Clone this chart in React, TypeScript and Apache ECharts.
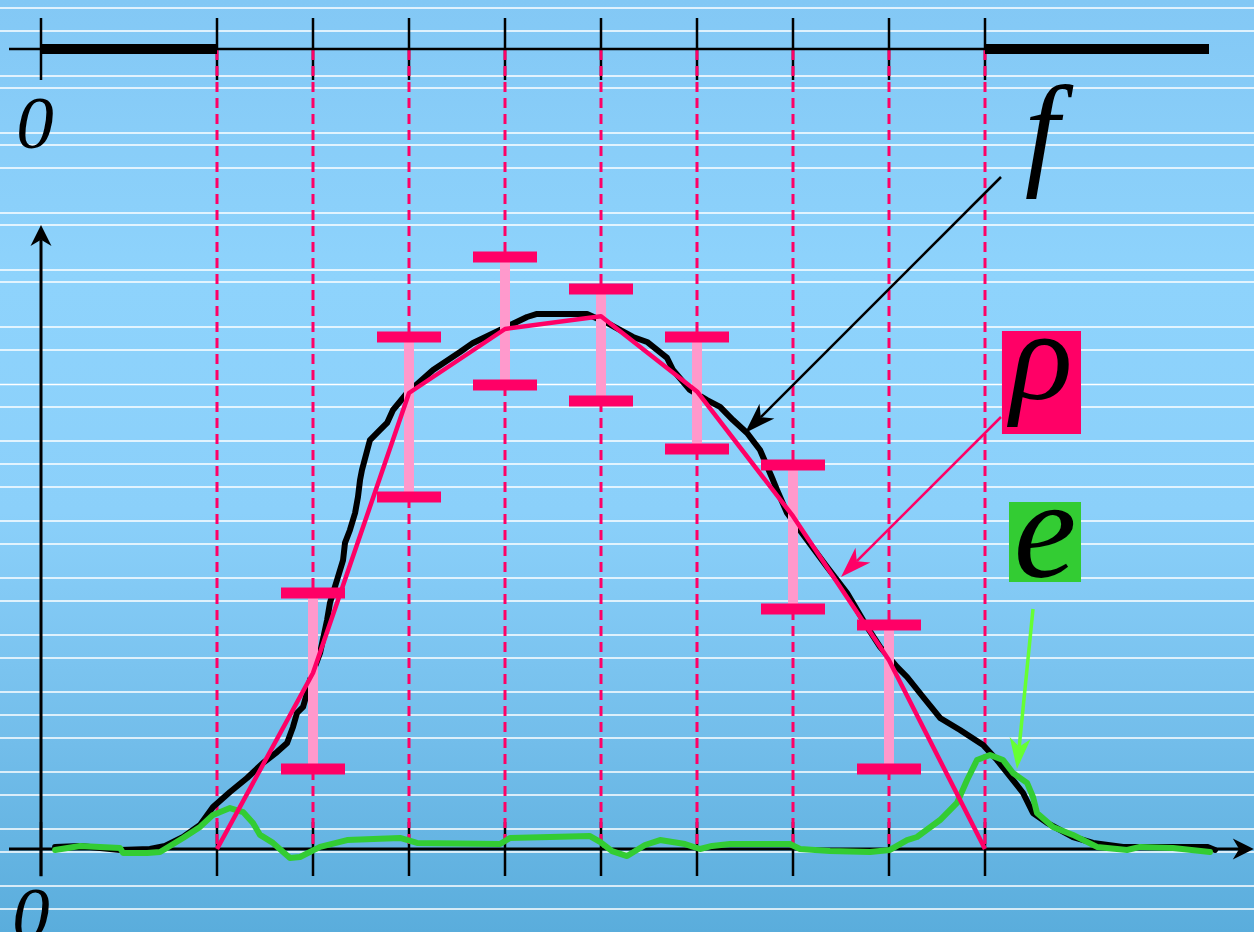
import React, { useEffect, useRef } from "react";
import * as echarts from "echarts";

// ---- Coordinate frame (1 unit = one sixth of a cell) ----
const X_MIN = -2.5625;
const X_MAX = 75.8125;
const Y_MIN = -5.1875;
const Y_MAX = 53.0625;

// Cell boundaries shared by both number lines
const cellEdges = [11, 17, 23, 29, 35, 41, 47, 53, 59];
const tickXs = [0, ...cellEdges];

// Upper number line: level, extent and the two thick runs
const topLineLevel = 50;
const topLineStart = -2;
const topLineEnd = 59;
const thickRuns = [
  [0, 11],
  [59, 73],
];

// Main axes: [x1, y1, x2, y2] with the arrow at the second point
const axisSegments = [
  [-2, 0, 75.8, 0],
  [0, -1.7, 0, 39],
];

// Pale horizontal rules across the backdrop
const stripeLevels = [
  52.56, 51.13, 48.31, 47.56, 44.75, 44.0, 42.56, 39.75, 39.0, 36.19, 35.44,
  32.63, 31.19, 29.03, 27.63, 25.5, 24.06, 22.63, 20.5, 19.06, 16.94, 15.5,
  13.38, 11.94, 9.81, 8.38, 6.94, 4.81, 3.38, 1.25, -0.19, -2.31, -3.75,
];

// Measured density f
const fCurve = [
  [0.88, 0.13], [2.44, 0.19], [4.94, -0.06], [6.81, 0], [7.75, 0.19],
  [8.88, 0.75], [9.94, 1.5], [10.75, 2.63], [11.81, 3.56], [12.88, 4.44],
  [13.88, 5.38], [14.75, 6.06], [15.38, 6.63], [15.75, 7.63], [16.0, 8.5],
  [16.38, 8.88], [16.63, 9.75], [16.81, 10.56], [17.44, 12.25], [17.88, 14.31],
  [18.06, 15.38], [18.5, 16.81], [18.88, 18.06], [19.0, 19.13], [19.31, 19.94],
  [19.63, 21.0], [19.81, 22.0], [19.94, 23.06], [20.06, 23.69], [20.56, 25.56],
  [21.19, 26.19], [21.63, 26.63], [22.0, 27.44], [22.88, 28.5], [24.5, 29.94],
  [26.19, 31.06], [27.0, 31.63], [28.69, 32.44], [30.38, 33.25], [31.0, 33.44],
  [34.13, 33.44], [35.38, 32.88], [37.0, 32.0], [37.88, 31.69], [39.13, 30.69],
  [39.5, 29.94], [40.56, 28.69], [41.63, 28.06], [42.44, 27.63], [43.25, 26.81],
  [44.13, 26.0], [44.94, 24.94], [45.75, 23.06], [46.0, 22.44], [46.63, 21.0],
  [47.88, 19.31], [49.13, 17.63], [50.38, 16.0], [51.63, 13.88], [52.44, 12.63],
  [53.5, 11.38], [54.13, 10.75], [55.13, 9.5], [56.19, 8.19], [57.44, 7.44],
  [58.88, 6.5], [59.75, 5.56], [60.75, 4.31], [61.38, 3.5], [62.0, 2.25],
  [62.88, 1.63], [64.5, 0.75], [65.75, 0.38], [67.63, 0.13], [72.88, 0.13],
  [73.38, -0.06],
];

// Error e = f - rho
const eCurve = [
  [0.88, -0.06], [2.44, 0.19], [4.94, 0.06], [5.13, -0.25], [6.63, -0.25],
  [7.44, -0.19], [8.88, 0.69], [9.94, 1.38], [10.75, 2.13], [11.81, 2.56],
  [12.63, 2.31], [13.25, 1.63], [13.69, 0.88], [14.5, 0.38], [15.56, -0.56],
  [16.19, -0.5], [17.44, 0.13], [19.13, 0.56], [22.44, 0.69], [23.5, 0.38],
  [28.69, 0.31], [29.31, 0.69], [34.31, 0.81], [34.94, 0.44], [35.69, -0.13],
  [36.63, -0.44], [37.75, 0.25], [38.69, 0.56], [40.25, 0.31], [41.19, 0],
  [41.94, 0.19], [43.06, 0.31], [46.81, 0.31], [47.44, 0], [49.31, -0.13],
  [51.81, -0.19], [53.06, -0.06], [54.13, 0.56], [54.75, 0.75], [56.19, 1.81],
  [57.25, 2.88], [57.88, 4.31], [58.5, 5.56], [59.31, 5.88], [60.13, 5.56],
  [60.75, 4.75], [61.63, 4.13], [62.0, 3.25], [62.25, 2.25], [63.25, 1.38],
  [64.5, 0.88], [66.0, 0.13], [67.88, -0.06], [68.69, 0.13], [70.75, 0.06],
  [73.06, -0.19],
];

// Piecewise-linear estimate rho at the cell boundaries
const rhoValues = [0, 11, 28.5, 32.5, 33.3, 28.6, 20.8, 11.8, 0];

// Confidence intervals at the interior boundaries
const barCenters = [17, 23, 29, 35, 41, 47, 53];
const barLow = [5, 22, 29, 28, 25, 15, 5];
const barHigh = [16, 32, 37, 35, 32, 24, 14];

// Pointer arrows: [fromX, fromY, toX, toY]
const pointerArrows = [
  [60, 42, 44, 26],
  [60, 27, 50, 17],
  [62, 15, 61, 5],
];
const pointerColors = ["#000000", "#ff0066", "#66ff33"];
const pointerWidths = [2.5, 2.5, 3.5];

// Symbol labels
const symbolNames = ["f", "ρ", "e", "0", "0"];
const symbolAnchors = [
  [62.56, 44.88],
  [62.53, 30.89],
  [62.75, 19.98],
  [-0.38, 45.39],
  [-0.63, -4.0],
];
const symbolSizes = [124, 130, 141, 75, 75];
// Boxes behind the rho and e symbols: [x0, y0, x1, y1]
const symbolBoxes = [
  null,
  [60.06, 25.94, 65, 32.38],
  [60.5, 16.69, 65, 21.69],
  null,
  null,
];
const symbolBoxColors = [null, "#ff0066", "#33cc33", null, null];

const RED = "#ff0066";
const PINK = "#ff99cc";
const GREEN = "#33cc33";
const SERIF = '"Liberation Serif", "DejaVu Serif", serif';

function arrowHead(
  tip: number[],
  from: number[],
  len: number,
  width: number,
  notch: number,
  color: string
) {
  const dx = tip[0] - from[0];
  const dy = tip[1] - from[1];
  const d = Math.hypot(dx, dy) || 1;
  const ux = dx / d;
  const uy = dy / d;
  const nx = -uy;
  const ny = ux;
  const bx = tip[0] - ux * len;
  const by = tip[1] - uy * len;
  const back = [tip[0] - ux * len * notch, tip[1] - uy * len * notch];
  return {
    head: {
      type: "polygon",
      shape: {
        points: [
          tip,
          [bx + (nx * width) / 2, by + (ny * width) / 2],
          back,
          [bx - (nx * width) / 2, by - (ny * width) / 2],
        ],
      },
      style: { fill: color },
    },
    back,
  };
}

function buildOption() {
  return {
    animation: false,
    grid: { left: 0, right: 0, top: 0, bottom: 0 },
    xAxis: { type: "value", min: X_MIN, max: X_MAX, show: false },
    yAxis: { type: "value", min: Y_MIN, max: Y_MAX, show: false },
    series: [
      {
        name: "stripes",
        type: "custom",
        z: 1,
        silent: true,
        data: stripeLevels.map((v) => [v]),
        renderItem: (_p: any, api: any) => {
          const v = api.value(0);
          const a = api.coord([X_MIN, v]);
          const b = api.coord([X_MAX, v]);
          return {
            type: "line",
            shape: { x1: a[0], y1: a[1], x2: b[0], y2: b[1] },
            style: { stroke: "#ffffff", lineWidth: 1.5 },
          };
        },
      },
      {
        name: "ticks",
        type: "custom",
        z: 2,
        silent: true,
        data: tickXs.map((x) => [x]),
        renderItem: (_p: any, api: any) => {
          const x = api.value(0);
          const t = api.coord([x, topLineLevel]);
          const b = api.coord([x, 0]);
          return {
            type: "group",
            children: [
              {
                type: "line",
                shape: { x1: t[0], y1: t[1] - 31, x2: t[0], y2: t[1] + 31 },
                style: { stroke: "#000", lineWidth: 2.5 },
              },
              {
                type: "line",
                shape: { x1: b[0], y1: b[1] - 27, x2: b[0], y2: b[1] + 27 },
                style: { stroke: "#000", lineWidth: 2.5 },
              },
            ],
          };
        },
      },
      {
        name: "cellEdges",
        type: "custom",
        z: 3,
        silent: true,
        data: cellEdges.map((x) => [x]),
        renderItem: (_p: any, api: any) => {
          const x = api.value(0);
          const t = api.coord([x, topLineLevel]);
          const b = api.coord([x, 0]);
          return {
            type: "line",
            shape: { x1: t[0], y1: t[1] + 1, x2: b[0], y2: b[1] },
            style: { stroke: RED, lineWidth: 3, lineDash: [10, 6] },
          };
        },
      },
      {
        name: "numberLine",
        type: "line",
        z: 4,
        silent: true,
        symbol: "none",
        lineStyle: { color: "#000", width: 2.5 },
        data: [
          [topLineStart, topLineLevel],
          [topLineEnd, topLineLevel],
        ],
      },
      {
        name: "thickRuns",
        type: "custom",
        z: 5,
        silent: true,
        data: thickRuns,
        renderItem: (_p: any, api: any) => {
          const a = api.coord([api.value(0), topLineLevel]);
          const b = api.coord([api.value(1), topLineLevel]);
          return {
            type: "line",
            shape: { x1: a[0], y1: a[1], x2: b[0], y2: b[1] },
            style: { stroke: "#000", lineWidth: 10, lineCap: "butt" },
          };
        },
      },
      {
        name: "axes",
        type: "custom",
        z: 6,
        silent: true,
        data: axisSegments,
        renderItem: (_p: any, api: any) => {
          const a = api.coord([api.value(0), api.value(1)]);
          const b = api.coord([api.value(2), api.value(3)]);
          const ah = arrowHead(b, a, 21, 21, 0.7, "#000");
          return {
            type: "group",
            children: [
              {
                type: "line",
                shape: { x1: a[0], y1: a[1], x2: ah.back[0], y2: ah.back[1] },
                style: { stroke: "#000", lineWidth: 3 },
              },
              ah.head,
            ],
          };
        },
      },
      {
        name: "f",
        type: "line",
        z: 7,
        silent: true,
        symbol: "none",
        lineStyle: { color: "#000", width: 6, join: "round", cap: "round" },
        data: fCurve,
      },
      {
        name: "e",
        type: "line",
        z: 8,
        silent: true,
        symbol: "none",
        lineStyle: { color: GREEN, width: 6, join: "round", cap: "round" },
        data: eCurve,
      },
      {
        name: "intervals",
        type: "custom",
        z: 9,
        silent: true,
        data: barCenters.map((x, i) => [x, barLow[i], barHigh[i]]),
        renderItem: (_p: any, api: any) => {
          const lo = api.coord([api.value(0), api.value(1)]);
          const hi = api.coord([api.value(0), api.value(2)]);
          return {
            type: "rect",
            shape: { x: hi[0] - 5, y: hi[1], width: 10, height: lo[1] - hi[1] },
            style: { fill: PINK },
          };
        },
      },
      {
        name: "rho",
        type: "line",
        z: 10,
        silent: true,
        symbol: "none",
        lineStyle: { color: RED, width: 4.5, join: "round" },
        data: cellEdges.map((x, i) => [x, rhoValues[i]]),
      },
      {
        name: "caps",
        type: "custom",
        z: 11,
        silent: true,
        data: barCenters.map((x, i) => [x, barLow[i], barHigh[i]]),
        renderItem: (_p: any, api: any) => {
          const lo = api.coord([api.value(0), api.value(1)]);
          const hi = api.coord([api.value(0), api.value(2)]);
          return {
            type: "group",
            children: [lo, hi].map((p) => ({
              type: "rect",
              shape: { x: p[0] - 32, y: p[1] - 5.5, width: 64, height: 11 },
              style: { fill: RED },
            })),
          };
        },
      },
      {
        name: "pointers",
        type: "custom",
        z: 12,
        silent: true,
        data: pointerArrows,
        renderItem: (p: any, api: any) => {
          const i = p.dataIndex;
          const a = api.coord([api.value(0), api.value(1)]);
          const b = api.coord([api.value(2), api.value(3)]);
          const ah = arrowHead(b, a, 31, 21, 0.72, pointerColors[i]);
          return {
            type: "group",
            children: [
              {
                type: "line",
                shape: { x1: a[0], y1: a[1], x2: ah.back[0], y2: ah.back[1] },
                style: { stroke: pointerColors[i], lineWidth: pointerWidths[i] },
              },
              ah.head,
            ],
          };
        },
      },
      {
        name: "symbols",
        type: "custom",
        z: 13,
        silent: true,
        data: symbolAnchors,
        renderItem: (p: any, api: any) => {
          const i = p.dataIndex;
          const c = api.coord([api.value(0), api.value(1)]);
          const children: any[] = [];
          const box = symbolBoxes[i];
          if (box) {
            const p0 = api.coord([box[0], box[3]]);
            const p1 = api.coord([box[2], box[1]]);
            children.push({
              type: "rect",
              shape: { x: p0[0], y: p0[1], width: p1[0] - p0[0], height: p1[1] - p0[1] },
              style: { fill: symbolBoxColors[i] },
            });
          }
          children.push({
            type: "text",
            x: c[0],
            y: c[1],
            style: {
              text: symbolNames[i],
              font: `italic ${symbolSizes[i]}px ${SERIF}`,
              fill: "#000",
              align: "center",
              verticalAlign: "middle",
            },
          });
          return { type: "group", children };
        },
      },
    ],
  };
}

export default function App() {
  const ref = useRef<HTMLDivElement>(null);
  useEffect(() => {
    if (!ref.current) return;
    const chart = echarts.init(ref.current, undefined, { renderer: "svg" });
    chart.setOption(buildOption() as any);
    return () => chart.dispose();
  }, []);
  return (
    <div
      ref={ref}
      style={{
        position: "fixed",
        left: 0,
        top: 0,
        width: 1254,
        height: 932,
        overflow: "hidden",
        background:
          "linear-gradient(to bottom, #83c8f5 0%, #8ed3fc 30%, #8bd0fa 55%, #72bdea 80%, #5aaddc 100%)",
      }}
    />
  );
}
